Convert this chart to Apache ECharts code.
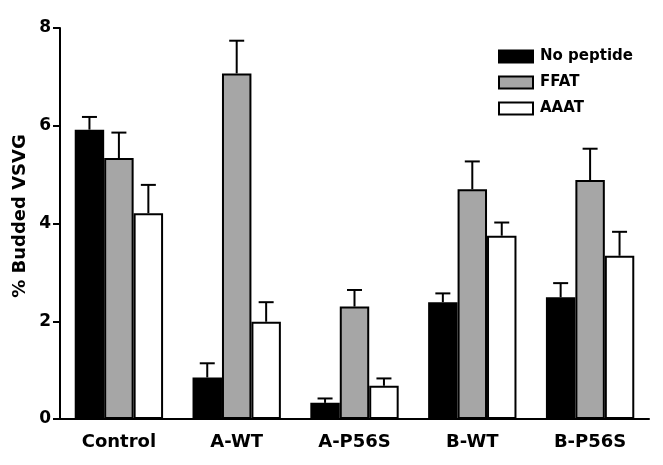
<!DOCTYPE html>
<html>
<head>
<meta charset="utf-8">
<script src="https://cdn.jsdelivr.net/npm/echarts@6/dist/echarts.min.js"></script>
<style>
html,body{margin:0;padding:0;background:#fff;}
#chart{width:663px;height:465px;}
</style>
</head>
<body>
<div id="chart"></div>
<script>
const categories = ['Control', 'A-WT', 'A-P56S', 'B-WT', 'B-P56S'];
const seriesNames = ['No peptide', 'FFAT', 'AAAT'];
const noPeptide = [5.92, 0.85, 0.33, 2.39, 2.49];
const noPeptideErr = [0.26, 0.29, 0.09, 0.18, 0.29];
const ffat = [5.34, 7.07, 2.30, 4.70, 4.89];
const ffatErr = [0.52, 0.67, 0.34, 0.57, 0.64];
const aaat = [4.21, 1.99, 0.68, 3.75, 3.34];
const aaatErr = [0.58, 0.40, 0.15, 0.27, 0.49];
const yMin = 0, yMax = 8, yInterval = 2;

const FONT = 'DejaVu Sans';
const colors = ['#000000', '#a6a6a6', '#ffffff'];
const means = [noPeptide, ffat, aaat];
const errs = [noPeptideErr, ffatErr, aaatErr];

const chart = echarts.init(document.getElementById('chart'), null, {renderer: 'canvas'});

const barSeries = seriesNames.map((name, s) => ({
  name: name,
  type: 'bar',
  data: means[s],
  barWidth: '25%',
  barGap: '0%',
  itemStyle: {color: colors[s], borderColor: '#000', borderWidth: 2},
  emphasis: {disabled: true},
  z: 2
}));

const errSeries = seriesNames.map((name, s) => ({
  name: name + ' err',
  type: 'custom',
  data: means[s].map((m, i) => [i, m, m + errs[s][i]]),
  encode: {x: 0, y: 2},
  z: 3,
  silent: true,
  renderItem: function (params, api) {
    const band = api.size([1, 0])[0];
    const w = band * 0.25;
    const x = api.coord([api.value(0), 0])[0] + (s - 1) * w;
    const yBase = api.coord([api.value(0), api.value(1)])[1];
    const yTop = api.coord([api.value(0), api.value(2)])[1];
    const style = {stroke: '#000', lineWidth: 2};
    return {
      type: 'group',
      children: [
        {type: 'line', shape: {x1: x, y1: yBase, x2: x, y2: yTop}, style: style},
        {type: 'line', shape: {x1: x - 7.5, y1: yTop, x2: x + 7.5, y2: yTop}, style: style}
      ]
    };
  }
}));

chart.setOption({
  backgroundColor: '#fff',
  animation: false,
  grid: {left: 60, right: 14, top: 28, bottom: 46, containLabel: false},
  legend: {
    data: seriesNames,
    orient: 'vertical',
    left: 493,
    top: 44,
    itemWidth: 34,
    itemHeight: 12,
    itemGap: 11,
    icon: 'rect',
    textStyle: {fontFamily: FONT, fontWeight: 'bold', fontSize: 15, color: '#000', padding: [0, 0, 0, 2]},
    selectedMode: false
  },
  xAxis: {
    type: 'category',
    data: categories,
    axisLine: {lineStyle: {color: '#000', width: 2}},
    axisTick: {alignWithLabel: true, length: 6, lineStyle: {color: '#000', width: 2}},
    axisLabel: {fontFamily: FONT, fontWeight: 'bold', fontSize: 18, color: '#000', margin: 14}
  },
  yAxis: {
    type: 'value',
    min: yMin,
    max: yMax,
    interval: yInterval,
    splitLine: {show: false},
    axisLine: {show: true, lineStyle: {color: '#000', width: 2}},
    axisTick: {show: true, length: 7, lineStyle: {color: '#000', width: 2}},
    axisLabel: {fontFamily: FONT, fontWeight: 'bold', fontSize: 17, color: '#000', margin: 9, padding: [0, 0, 5, 0]}
  },
  graphic: [{
    type: 'text',
    x: 20,
    y: 216,
    rotation: Math.PI / 2,
    style: {
      text: '% Budded VSVG',
      font: 'bold 18px "DejaVu Sans"',
      fill: '#000',
      align: 'center',
      verticalAlign: 'middle'
    }
  }],
  series: barSeries.concat(errSeries)
});
</script>
</body>
</html>
